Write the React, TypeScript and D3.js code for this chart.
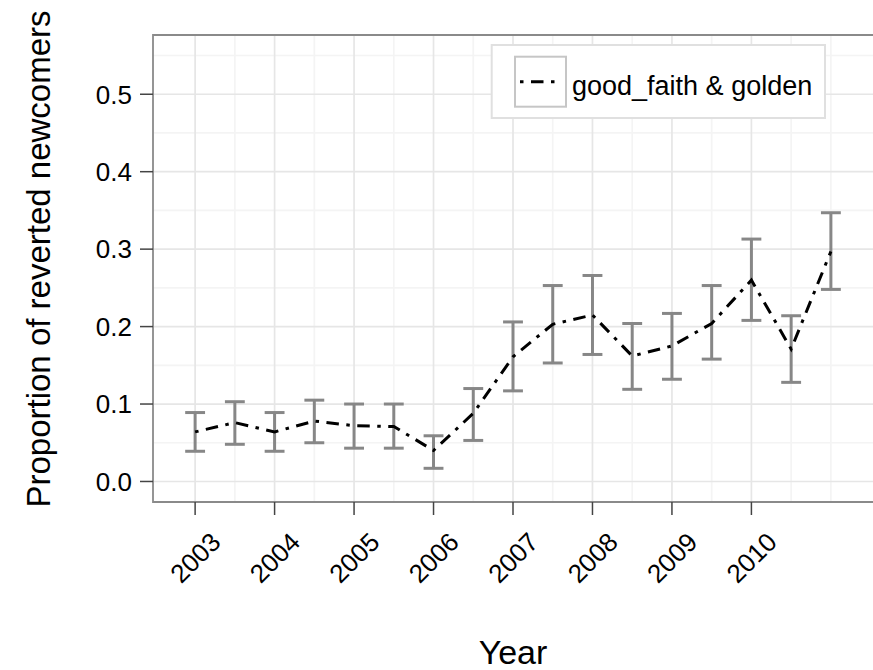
import React from "react";
import * as d3 from "d3";

const years = [2003, 2003.5, 2004, 2004.5, 2005, 2005.5, 2006, 2006.5, 2007, 2007.5, 2008, 2008.5, 2009, 2009.5, 2010, 2010.5, 2011];
const proportion = [0.064, 0.076, 0.064, 0.078, 0.072, 0.071, 0.040, 0.088, 0.161, 0.203, 0.215, 0.162, 0.175, 0.204, 0.260, 0.171, 0.297];
const lower = [0.039, 0.048, 0.039, 0.050, 0.043, 0.043, 0.017, 0.053, 0.117, 0.153, 0.164, 0.119, 0.132, 0.158, 0.208, 0.128, 0.248];
const upper = [0.089, 0.103, 0.089, 0.105, 0.100, 0.100, 0.059, 0.120, 0.206, 0.253, 0.266, 0.204, 0.217, 0.253, 0.313, 0.214, 0.347];

const xTicks = [2003, 2004, 2005, 2006, 2007, 2008, 2009, 2010];
const xMinor = [2003.5, 2004.5, 2005.5, 2006.5, 2007.5, 2008.5, 2009.5, 2010.5, 2011];
const yTicks = [0, 0.1, 0.2, 0.3, 0.4, 0.5];
const yMinor = [0.05, 0.15, 0.25, 0.35, 0.45, 0.55];
const seriesName = "good_faith & golden";
const xTitle = "Year";
const yTitle = "Proportion of reverted newcomers";

const W = 873;
const H = 670;
const left = 153;
const right = 873;
const top = 35;
const bottom = 502;
const font = "'Liberation Sans', Arial, Helvetica, sans-serif";
const dash = "3.5,7.5,12.5,7.5";

export default function App() {
  const x = d3.scaleLinear().domain([2002.47, 2011.53]).range([left, right]);
  const y = d3.scaleLinear().domain([-0.0265, 0.5765]).range([bottom, top]);
  const data = years.map((yr, i) => ({ yr, p: proportion[i], lo: lower[i], hi: upper[i] }));
  const line = d3
    .line<{ yr: number; p: number }>()
    .x((d) => x(d.yr))
    .y((d) => y(d.p));
  const capHalf = x(2003.125) - x(2003);

  return (
    <svg
      width={W}
      height={H}
      style={{ position: "absolute", left: 0, top: 0, display: "block", background: "#fff" }}
      fontFamily={font}
    >
      <rect x={0} y={0} width={W} height={H} fill="#fff" />
      {/* minor grid */}
      {yMinor.map((v) => (
        <line key={"ym" + v} x1={left} x2={right} y1={y(v)} y2={y(v)} stroke="#f4f4f4" strokeWidth={1.7} />
      ))}
      {xMinor.map((v) => (
        <line key={"xm" + v} x1={x(v)} x2={x(v)} y1={top} y2={bottom} stroke="#f4f4f4" strokeWidth={1.7} />
      ))}
      {/* major grid */}
      {yTicks.map((v) => (
        <line key={"yg" + v} x1={left} x2={right} y1={y(v)} y2={y(v)} stroke="#e6e6e6" strokeWidth={1.7} />
      ))}
      {xTicks.map((v) => (
        <line key={"xg" + v} x1={x(v)} x2={x(v)} y1={top} y2={bottom} stroke="#e6e6e6" strokeWidth={1.7} />
      ))}
      {/* error bars */}
      {data.map((d) => (
        <g key={"e" + d.yr} stroke="#878787" strokeWidth={3} fill="none">
          <line x1={x(d.yr)} x2={x(d.yr)} y1={y(d.lo)} y2={y(d.hi)} />
          <line x1={x(d.yr) - capHalf} x2={x(d.yr) + capHalf} y1={y(d.lo)} y2={y(d.lo)} />
          <line x1={x(d.yr) - capHalf} x2={x(d.yr) + capHalf} y1={y(d.hi)} y2={y(d.hi)} />
        </g>
      ))}
      {/* line */}
      <path d={line(data) || ""} fill="none" stroke="#000" strokeWidth={3} strokeDasharray={dash} />
      {/* panel border */}
      <path
        d={`M${right + 2},${top}H${left}V${bottom}H${right + 2}`}
        fill="none"
        stroke="#8a8a8a"
        strokeWidth={1.8}
      />
      {/* y axis ticks & labels */}
      {yTicks.map((v) => (
        <g key={"yt" + v}>
          <line x1={left - 13} x2={left} y1={y(v)} y2={y(v)} stroke="#444" strokeWidth={1.5} />
          <text x={132} y={y(v)} dy="0.36em" textAnchor="end" fontSize={26} fill="#000">
            {d3.format(".1f")(v)}
          </text>
        </g>
      ))}
      {/* x axis ticks & labels */}
      {xTicks.map((v) => (
        <g key={"xt" + v}>
          <line x1={x(v)} x2={x(v)} y1={bottom} y2={bottom + 13} stroke="#444" strokeWidth={1.5} />
          <text
            x={x(v)}
            y={557.5}
            dy="0.36em"
            textAnchor="middle"
            fontSize={26}
            fill="#000"
            transform={`rotate(-45, ${x(v)}, 557.5)`}
          >
            {String(v)}
          </text>
        </g>
      ))}
      {/* titles */}
      <text x={(left + right) / 2} y={664} textAnchor="middle" fontSize={34} fill="#000">
        {xTitle}
      </text>
      <text
        x={0}
        y={0}
        textAnchor="middle"
        fontSize={33}
        fill="#000"
        transform={`translate(50, 259) rotate(-90)`}
      >
        {yTitle}
      </text>
      {/* legend */}
      <rect x={491.7} y={45} width={333.3} height={73} fill="#fff" stroke="#e0e0e0" strokeWidth={2} />
      <rect x={515} y={56.7} width={51} height={50} fill="#fff" stroke="#c6c6c6" strokeWidth={2} />
      <line x1={520} x2={561} y1={81.7} y2={81.7} stroke="#000" strokeWidth={3} strokeDasharray={dash} />
      <text x={572} y={95} fontSize={27} fill="#000">
        {seriesName}
      </text>
    </svg>
  );
}
